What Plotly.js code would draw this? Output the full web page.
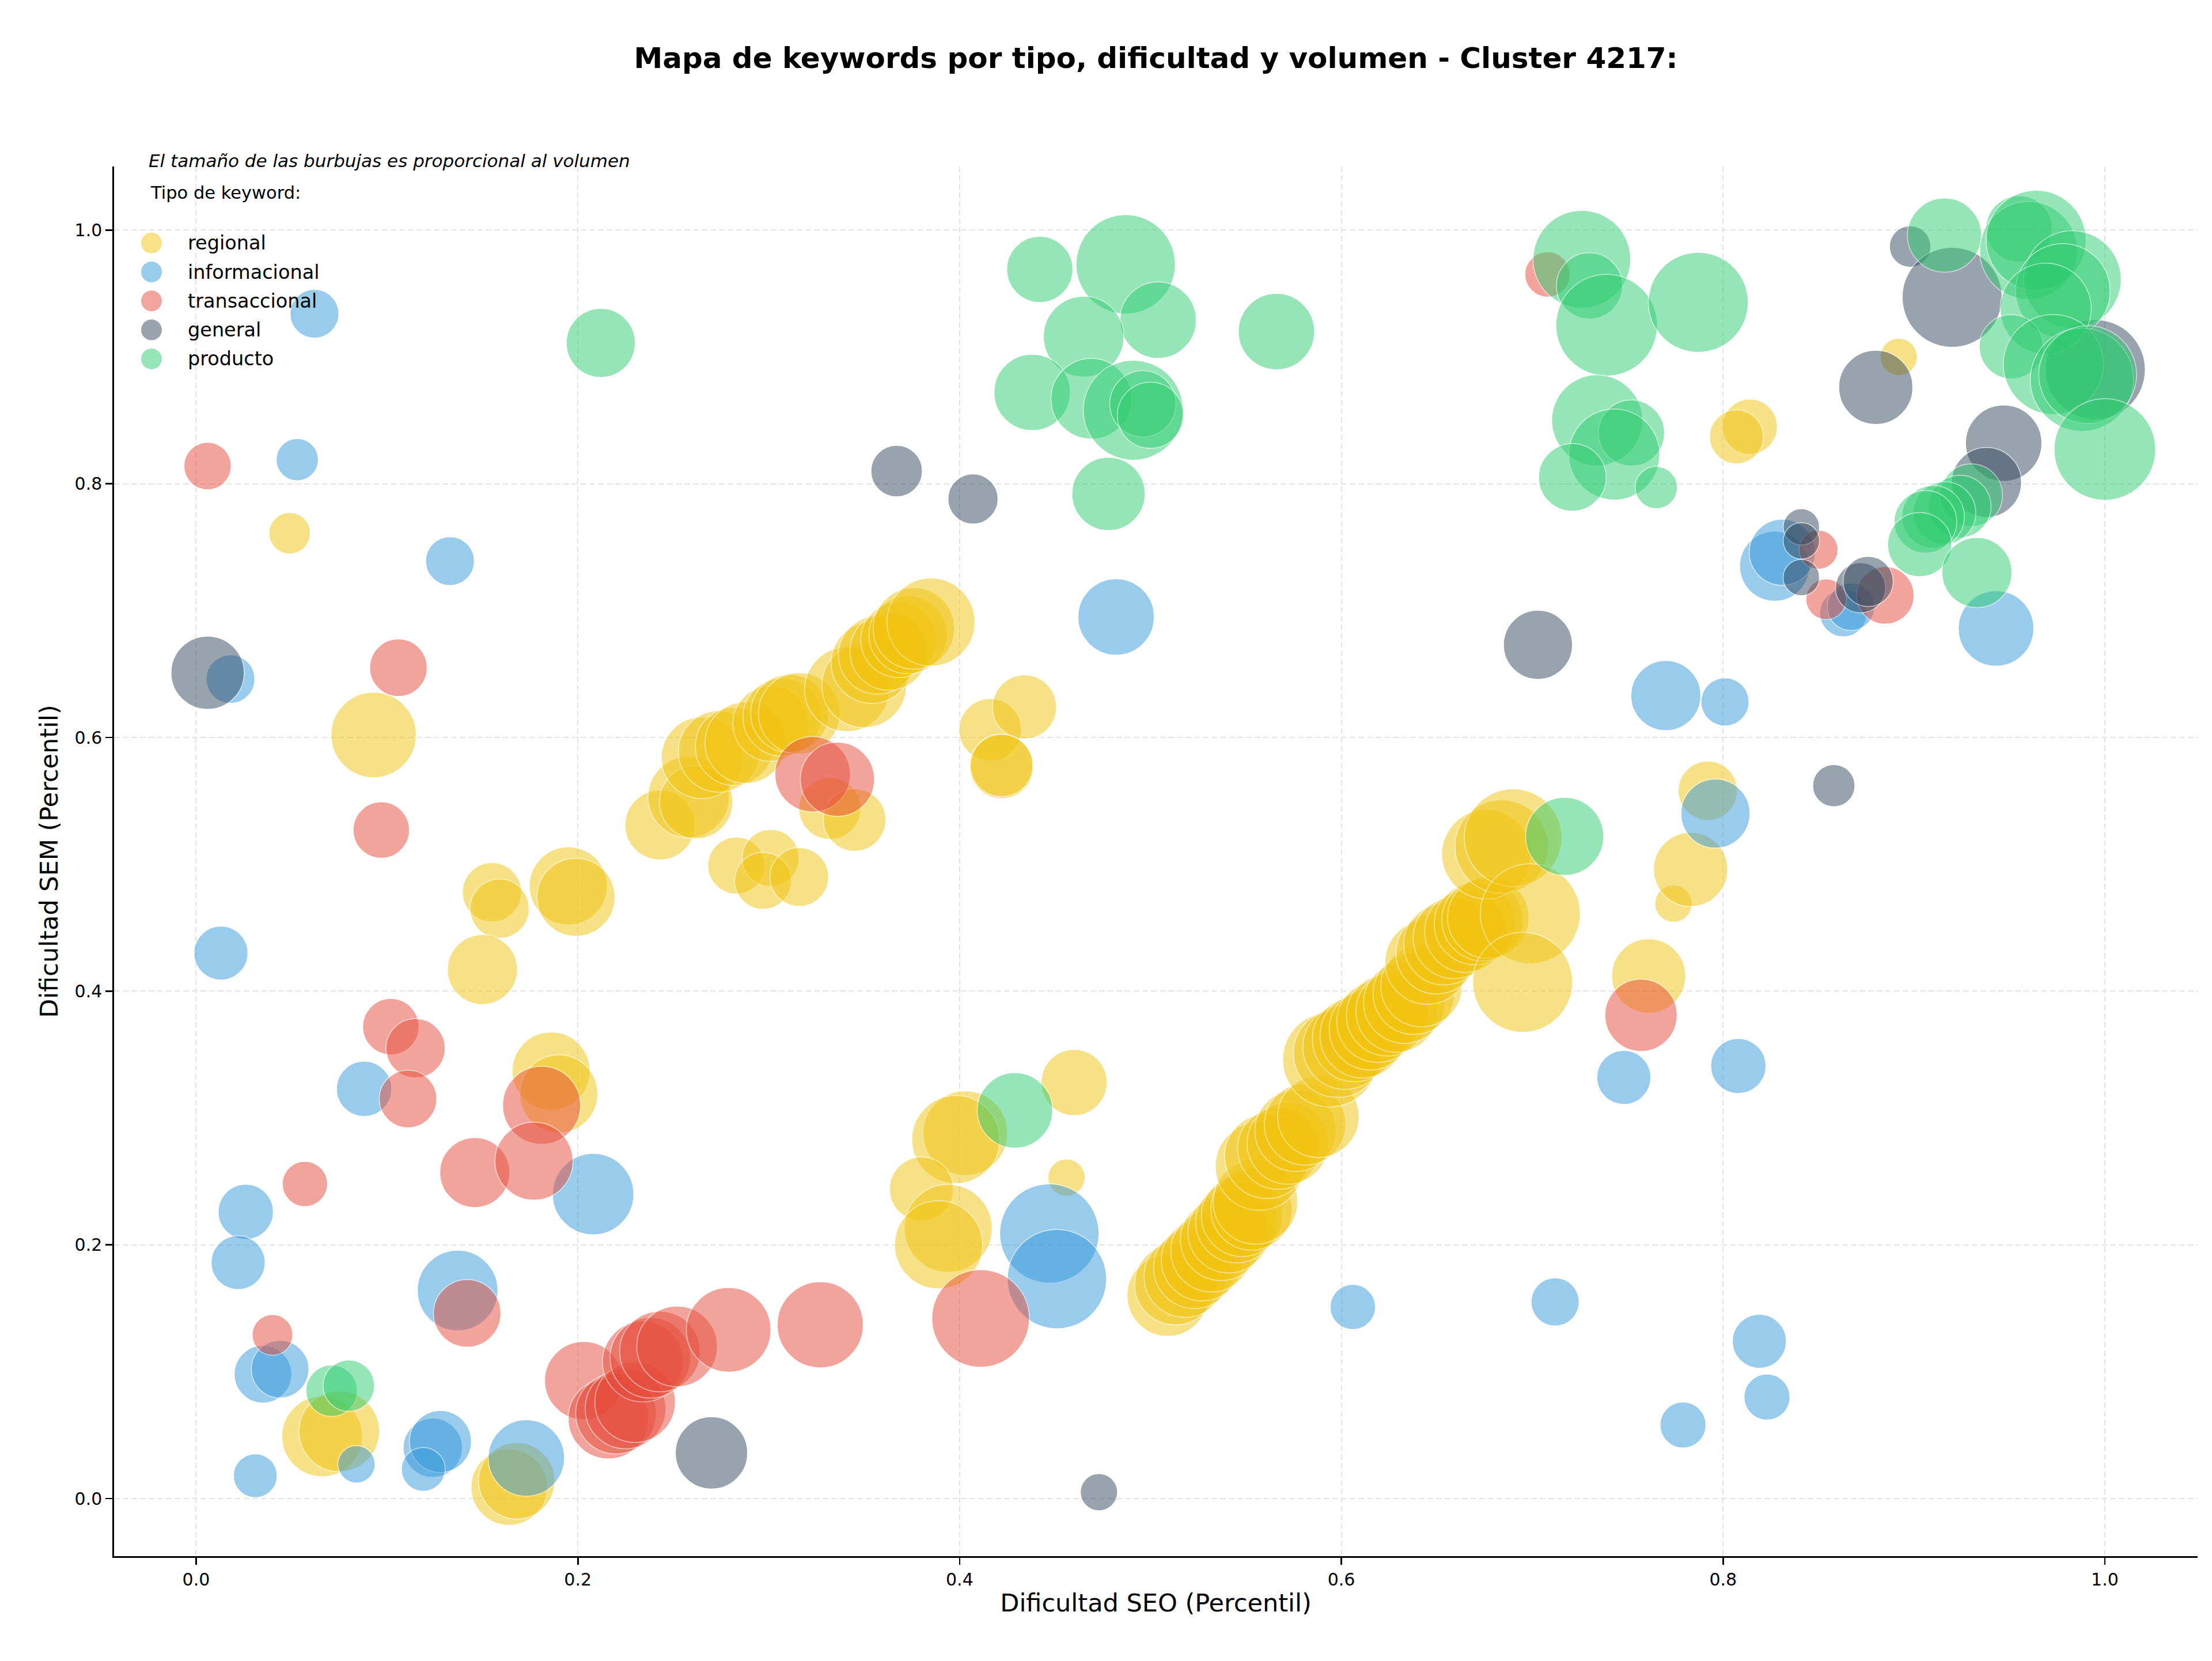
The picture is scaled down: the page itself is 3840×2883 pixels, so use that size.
<!DOCTYPE html>
<html>
<head>
<meta charset="utf-8">
<script src="https://cdn.plot.ly/plotly-3.0.1.min.js"></script>
<style>
  html, body { margin: 0; padding: 0; background: #ffffff; }
  #chart { width: 3840px; height: 2883px; }
</style>
</head>
<body>
<div id="chart"></div>
<script>
// Keyword types and their colours
const tipos = ['regional', 'informacional', 'transaccional', 'general', 'producto'];
const colores = ['#f1c40f', '#3498db', '#e74c3c', '#34495e', '#2ecc71'];

// regional
const regional_seo = [0.049, 0.093, 0.155, 0.159, 0.195, 0.199, 0.150, 0.186, 0.190, 0.066, 0.075, 0.164, 0.168,
  0.243, 0.258, 0.262, 0.265, 0.274, 0.282, 0.288, 0.301, 0.307, 0.311, 0.316, 0.341, 0.350, 0.354, 0.357, 0.363,
  0.368, 0.373, 0.376, 0.385,
  0.283, 0.301, 0.297, 0.316, 0.332, 0.345, 0.416, 0.434, 0.422, 0.422, 0.460, 0.403, 0.398, 0.456, 0.380, 0.394, 0.389,
  0.509, 0.513, 0.518, 0.523, 0.527, 0.532, 0.537, 0.541, 0.545, 0.548, 0.553, 0.555, 0.557, 0.561, 0.567, 0.572,
  0.576, 0.581, 0.588, 0.594, 0.598, 0.602, 0.607, 0.611, 0.615, 0.619, 0.624, 0.629, 0.633, 0.638, 0.642, 0.645,
  0.650, 0.654, 0.659, 0.665, 0.670, 0.674, 0.677, 0.676, 0.684, 0.690, 0.699, 0.695,
  0.761, 0.774, 0.783, 0.792, 0.814, 0.807, 0.892];
const regional_sem = [0.761, 0.602, 0.478, 0.465, 0.483, 0.474, 0.417, 0.337, 0.319, 0.049, 0.053, 0.009, 0.014,
  0.531, 0.553, 0.549, 0.584, 0.589, 0.593, 0.596, 0.611, 0.616, 0.619, 0.619, 0.638, 0.641, 0.659, 0.665, 0.668,
  0.677, 0.681, 0.686, 0.691,
  0.499, 0.505, 0.487, 0.490, 0.544, 0.535, 0.606, 0.624, 0.577, 0.578, 0.328, 0.288, 0.283, 0.253, 0.244, 0.213, 0.200,
  0.160, 0.169, 0.175, 0.182, 0.188, 0.195, 0.204, 0.210, 0.218, 0.223, 0.228, 0.234, 0.262, 0.270, 0.276, 0.280,
  0.290, 0.295, 0.301, 0.346, 0.351, 0.356, 0.362, 0.365, 0.370, 0.376, 0.381, 0.384, 0.391, 0.398, 0.404, 0.423,
  0.430, 0.437, 0.442, 0.447, 0.453, 0.456, 0.458, 0.508, 0.514, 0.521, 0.461, 0.407,
  0.412, 0.469, 0.496, 0.558, 0.845, 0.837, 0.900];
const regional_vol = [260, 1100, 530, 530, 920, 920, 740, 920, 920, 980, 980, 880, 880,
  740, 1000, 810, 1000, 1000, 920, 1000, 860, 920, 920, 1000, 1080, 1080, 1000, 920, 920,
  860, 920, 1000, 1170,
  490, 490, 490, 520, 580, 590, 590, 620, 620, 590, 660, 1080, 1170, 210, 620, 1170, 1170,
  1000, 1000, 1000, 1000, 1000, 1000, 1000, 1000, 1000, 1000, 1000, 1080, 1170, 1080, 1000, 1000,
  1000, 1000, 1000, 1350, 1170, 1080, 1080, 1080, 1000, 1000, 1000, 1000, 1000, 1000, 1000, 1080,
  1000, 1000, 1000, 1000, 1000, 1000, 1000, 1210, 1320, 1440, 1510, 1510,
  830, 210, 830, 530, 460, 440, 210];

// informacional
const informacional_seo = [0.062, 0.053, 0.133, 0.018, 0.013, 0.088, 0.208, 0.026, 0.022, 0.137, 0.035, 0.044,
  0.084, 0.031, 0.124, 0.128, 0.119, 0.173, 0.482, 0.447, 0.451, 0.606, 0.712, 0.748, 0.808, 0.819, 0.823, 0.779,
  0.796, 0.770, 0.801, 0.827, 0.831, 0.863, 0.867, 0.943];
const informacional_sem = [0.934, 0.819, 0.739, 0.646, 0.430, 0.323, 0.240, 0.226, 0.186, 0.164, 0.098, 0.102,
  0.027, 0.018, 0.040, 0.045, 0.023, 0.032, 0.695, 0.209, 0.173, 0.151, 0.155, 0.332, 0.341, 0.124, 0.080, 0.058,
  0.540, 0.633, 0.628, 0.735, 0.746, 0.698, 0.703, 0.686];
const informacional_vol = [360, 270, 360, 360, 440, 460, 1000, 460, 440, 980, 500, 500,
  210, 290, 530, 580, 290, 880, 880, 1490, 1490, 310, 350, 440, 460, 440, 320, 320,
  720, 740, 350, 740, 660, 340, 340, 860];

// transaccional
const transaccional_seo = [0.006, 0.106, 0.097, 0.323, 0.336, 0.102, 0.115, 0.111, 0.181, 0.146, 0.177, 0.057,
  0.142, 0.040, 0.203, 0.216, 0.220, 0.225, 0.230, 0.234, 0.238, 0.243, 0.252, 0.279, 0.327, 0.411,
  0.757, 0.708, 0.850, 0.854, 0.885];
const transaccional_sem = [0.814, 0.655, 0.527, 0.571, 0.567, 0.372, 0.355, 0.315, 0.310, 0.257, 0.266, 0.248,
  0.146, 0.129, 0.093, 0.063, 0.067, 0.071, 0.076, 0.108, 0.111, 0.116, 0.120, 0.133, 0.137, 0.142,
  0.381, 0.965, 0.748, 0.709, 0.712];
const transaccional_vol = [340, 500, 480, 860, 830, 480, 530, 500, 920, 740, 920, 310,
  690, 250, 920, 980, 980, 980, 980, 980, 980, 980, 980, 1080, 1120, 1440,
  790, 310, 230, 250, 500];

// general
const general_seo = [0.006, 0.367, 0.407, 0.270, 0.473, 0.703, 0.858, 0.898, 0.920, 0.880, 0.995, 0.947,
  0.938, 0.841, 0.841, 0.841, 0.872, 0.876];
const general_sem = [0.651, 0.810, 0.788, 0.036, 0.005, 0.673, 0.562, 0.987, 0.947, 0.876, 0.890, 0.832,
  0.801, 0.766, 0.755, 0.726, 0.718, 0.723];
const general_vol = [810, 400, 380, 790, 210, 720, 270, 260, 1510, 830, 1510, 880,
  740, 200, 200, 200, 380, 380];

// producto
const producto_seo = [0.212, 0.071, 0.080, 0.429, 0.442, 0.487, 0.504, 0.465, 0.566, 0.438, 0.469, 0.491,
  0.496, 0.500, 0.478, 0.717, 0.726, 0.730, 0.739, 0.787, 0.734, 0.752, 0.743, 0.721, 0.765,
  0.916, 0.955, 0.960, 0.964, 0.983, 0.978, 0.969, 0.951, 0.973, 0.988, 0.991, 1.000,
  0.930, 0.924, 0.916, 0.910, 0.906, 0.903, 0.933];
const producto_sem = [0.911, 0.085, 0.089, 0.306, 0.969, 0.973, 0.929, 0.916, 0.920, 0.872, 0.867, 0.858,
  0.863, 0.854, 0.792, 0.522, 0.977, 0.956, 0.925, 0.943, 0.850, 0.840, 0.823, 0.805, 0.797,
  0.996, 1.001, 0.984, 0.992, 0.961, 0.952, 0.938, 0.908, 0.894, 0.882, 0.886, 0.827,
  0.791, 0.782, 0.777, 0.774, 0.770, 0.752, 0.730];
const producto_vol = [720, 400, 400, 860, 660, 1490, 880, 980, 880, 880, 980, 1510,
  660, 660, 810, 920, 1440, 660, 1560, 1510, 1250, 660, 1250, 690, 270,
  830, 660, 1440, 1510, 1440, 1350, 1250, 620, 1510, 1610, 1440, 1560,
  590, 590, 590, 590, 590, 620, 740];

const series = {
  regional: [regional_seo, regional_sem, regional_vol],
  informacional: [informacional_seo, informacional_sem, informacional_vol],
  transaccional: [transaccional_seo, transaccional_sem, transaccional_vol],
  general: [general_seo, general_sem, general_vol],
  producto: [producto_seo, producto_sem, producto_vol]
};

const FONT = 'DejaVu Sans';
const traces = tipos.map((t, i) => ({
  type: 'scatter',
  mode: 'markers',
  name: t,
  x: series[t][0],
  y: series[t][1],
  showlegend: false,
  hoverinfo: 'x+y+name',
  marker: {
    size: series[t][2],
    sizemode: 'area',
    sizeref: 0.1,
    color: colores[i],
    opacity: 0.5,
    line: { color: '#ffffff', width: 1.7 }
  }
}));

// Page geometry (pixels)
const FIG_W = 3840, FIG_H = 2883;
const M = { l: 198, r: 25, t: 289, b: 182 };
const plotW = FIG_W - M.l - M.r;
const plotH = FIG_H - M.t - M.b;
const px2x = px => (px - M.l) / plotW;
const py2y = py => (FIG_H - M.b - py) / plotH;

// Hand-built key: coloured discs plus labels, top-left inside the axes
const shapes = [];
const annotations = [];
const keyTop = 421.7, keyStep = 50.3, keyMarkX = 263, keyTextX = 324, keyR = 18;
tipos.forEach((t, i) => {
  const yc = keyTop + i * keyStep;
  shapes.push({
    type: 'circle', xref: 'paper', yref: 'paper',
    xsizemode: 'pixel', ysizemode: 'pixel',
    xanchor: px2x(keyMarkX), yanchor: py2y(yc),
    x0: -keyR, x1: keyR, y0: -keyR, y1: keyR,
    fillcolor: colores[i], opacity: 0.5, line: { width: 0 }
  });
  annotations.push({
    xref: 'paper', yref: 'paper', x: px2x(keyTextX), y: py2y(yc),
    xanchor: 'left', yanchor: 'middle', showarrow: false,
    text: t, font: { family: FONT, size: 33.5, color: '#000000' }
  });
});
annotations.push({
  xref: 'paper', yref: 'paper', x: px2x(259), y: py2y(335),
  xanchor: 'left', yanchor: 'middle', showarrow: false,
  text: 'Tipo de keyword:', font: { family: FONT, size: 30.5, color: '#000000' }
});
annotations.push({
  xref: 'paper', yref: 'paper', x: px2x(256), y: py2y(279),
  xanchor: 'left', yanchor: 'middle', showarrow: false,
  text: 'El tamaño de las burbujas es proporcional al volumen',
  font: { family: FONT, size: 31, color: '#000000', style: 'italic' }
});

const axisCommon = {
  tickvals: [0, 0.2, 0.4, 0.6, 0.8, 1.0],
  tickformat: '.1f',
  showgrid: true,
  gridcolor: '#e3e3e3',
  gridwidth: 2,
  griddash: '10px,5px',
  zeroline: false,
  showline: true,
  linecolor: '#000000',
  linewidth: 2.7,
  ticks: 'outside',
  ticklen: 12,
  tickwidth: 2.7,
  tickcolor: '#000000',
  tickfont: { family: FONT, size: 30, color: '#000000' },
  automargin: false
};

const layout = {
  width: FIG_W,
  height: FIG_H,
  margin: M,
  paper_bgcolor: '#ffffff',
  plot_bgcolor: '#ffffff',
  font: { family: FONT, color: '#000000' },
  showlegend: false,
  title: {
    text: 'Mapa de keywords por tipo, dificultad y volumen - Cluster 4217:',
    font: { family: FONT, size: 50, weight: 'bold', color: '#000000' },
    xref: 'paper', x: 0.5, xanchor: 'center',
    yref: 'container', y: 1 - 100 / FIG_H, yanchor: 'middle'
  },
  xaxis: Object.assign({}, axisCommon, {
    range: [-0.043, 1.0486],
    title: { text: 'Dificultad SEO (Percentil)', font: { family: FONT, size: 43, color: '#000000' }, standoff: 10 }
  }),
  yaxis: Object.assign({}, axisCommon, {
    range: [-0.0454, 1.0501],
    title: { text: 'Dificultad SEM (Percentil)', font: { family: FONT, size: 43, color: '#000000' }, standoff: 16 }
  }),
  shapes: shapes,
  annotations: annotations
};

Plotly.newPlot('chart', traces, layout, { displayModeBar: false, staticPlot: true });
</script>
</body>
</html>
